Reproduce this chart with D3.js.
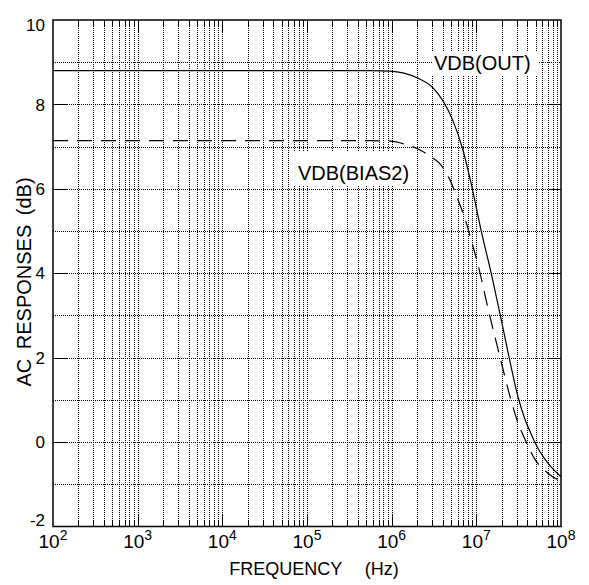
<!DOCTYPE html>
<html><head><meta charset="utf-8">
<script src="https://cdn.jsdelivr.net/npm/d3@7"></script>
<style>body{margin:0;background:#fff}svg{display:block}text{font-family:"Liberation Sans",Arial,sans-serif;fill:#000}</style>
</head><body><svg id="c" width="589" height="585"></svg>
<script>
// ---- data ----
const xDecades = [2, 3, 4, 5, 6, 7, 8];            // exponents of tick labels 10^n
const yTicks = [-2, 0, 2, 4, 6, 8, 10];
const yGrid = [-1, 0, 1, 2, 3, 4, 5, 6, 7, 8, 9];
const outFreq = [1e2, 1e5, 5.5e5, 9.55e5, 1.99e6, 3.08e6, 4.04e6, 5.30e6, 6.95e6, 8.65e6, 1.135e7, 1.53e7, 1.89e7, 2.43e7, 3.10e7, 3.66e7, 4.42e7, 5.65e7, 7.41e7, 1e8];
const outVal  = [8.80, 8.80, 8.80, 8.79, 8.63, 8.39, 8.08, 7.61, 6.92, 6.14, 5.03, 3.92, 3.07, 2.02, 1.08, 0.60, 0.20, -0.23, -0.56, -0.82];
const biasFreq = [1e2, 1e5, 5.5e5, 9.55e5, 1.52e6, 2.16e6, 2.91e6, 3.72e6, 4.75e6, 6.07e6, 7.35e6, 8.89e6, 1.047e7, 1.41e7, 1.90e7, 2.50e7, 3.10e7, 3.76e7, 4.93e7, 6.84e7, 1e8];
const biasVal  = [7.14, 7.14, 7.14, 7.13, 7.04, 6.92, 6.76, 6.59, 6.26, 5.74, 5.29, 4.72, 4.20, 3.07, 2.02, 1.08, 0.46, 0.06, -0.41, -0.72, -0.93];
const seriesNames = ["VDB(OUT)", "VDB(BIAS2)"];
const xTitle = "FREQUENCY (Hz)";
const yTitle = "AC RESPONSES (dB)";

// ---- layout ----
const svg = d3.select("#c");
const L = 53, R = 561, T = 20, B = 526.5;
const x = d3.scaleLog().domain([1e2, 1e8]).range([L, R]);
const y = d3.scaleLinear().domain([-2, 10]).range([B, T]);

const minor = [];
for (let e = 2; e < 8; e++) for (let m = 2; m <= 9; m++) minor.push(m * Math.pow(10, e));
const decades = xDecades.map(e => Math.pow(10, e));

const grid = svg.append("g").attr("stroke", "#000").attr("stroke-width", 1).attr("stroke-dasharray", "1,1").attr("shape-rendering", "crispEdges");
grid.selectAll("line.v").data(minor.concat(decades.slice(1, -1))).join("line")
  .attr("x1", d => Math.round(x(d)) + 0.5).attr("x2", d => Math.round(x(d)) + 0.5)
  .attr("y1", T).attr("y2", B);
grid.selectAll("line.h").data(yGrid).join("line")
  .attr("x1", L).attr("x2", R)
  .attr("y1", d => Math.round(y(d)) + 0.5).attr("y2", d => Math.round(y(d)) + 0.5);

// ticks
const ticks = svg.append("g").attr("stroke", "#000").attr("stroke-width", 1).attr("shape-rendering", "crispEdges");
const allX = minor.map(d => ({v: d, len: 6})).concat(decades.slice(1, -1).map(d => ({v: d, len: 13})));
allX.forEach(t => {
  const px = Math.round(x(t.v)) + 0.5;
  ticks.append("line").attr("x1", px).attr("x2", px).attr("y1", T).attr("y2", T + t.len);
  ticks.append("line").attr("x1", px).attr("x2", px).attr("y1", B).attr("y2", B - t.len);
});
yTicks.slice(1, -1).forEach(v => {
  const py = Math.round(y(v)) + 0.5;
  ticks.append("line").attr("x1", L).attr("x2", L + 14).attr("y1", py).attr("y2", py);
  ticks.append("line").attr("x1", R).attr("x2", R - 12).attr("y1", py).attr("y2", py);
});

// label boxes (hide grid)
svg.append("rect").attr("x", 432).attr("y", 51).attr("width", 106).attr("height", 24).attr("fill", "#fff");
svg.append("rect").attr("x", 294).attr("y", 152).attr("width", 122).attr("height", 33).attr("fill", "#fff");

// frame
svg.append("rect").attr("x", L).attr("y", T).attr("width", R - L).attr("height", B - T)
  .attr("fill", "none").attr("stroke", "#000").attr("stroke-width", 1.5);

// curves
const line = d3.line().x(d => x(d[0])).y(d => y(d[1])).curve(d3.curveMonotoneX);
svg.append("path").datum(d3.zip(outFreq, outVal)).attr("d", line)
  .attr("fill", "none").attr("stroke", "#000").attr("stroke-width", 1.2);
svg.append("path").datum(d3.zip(biasFreq, biasVal)).attr("d", line)
  .attr("fill", "none").attr("stroke", "#000").attr("stroke-width", 1.2).attr("stroke-dasharray", "15,9");

// y tick labels (end labels kept inside the frame height)
svg.append("g").selectAll("text").data(yTicks).join("text")
  .attr("x", 45).attr("y", d => Math.min(520, Math.max(25, y(d)))).attr("dy", "0.36em").attr("text-anchor", "end")
  .attr("font-size", 17).text(d => d);

// x tick labels
const xl = svg.append("g").selectAll("text").data(xDecades).join("text")
  .attr("x", d => x(Math.pow(10, d))).attr("y", 548).attr("text-anchor", "middle").attr("font-size", 19);
xl.append("tspan").text("10");
xl.append("tspan").attr("font-size", 14).attr("dy", -8).text(d => d);

// series labels
svg.append("text").attr("x", 434).attr("y", 70).attr("font-size", 20).text(seriesNames[0]);
svg.append("text").attr("x", 298).attr("y", 180).attr("font-size", 20).text(seriesNames[1]);

// axis titles
svg.append("text").attr("x", 314).attr("y", 575).attr("text-anchor", "middle").attr("font-size", 18)
  .style("word-spacing", "18px").text(xTitle);
svg.append("text").attr("transform", "translate(31,282) rotate(-90)").attr("text-anchor", "middle")
  .attr("font-size", 20).style("word-spacing", "4px").text(yTitle);
</script></body></html>
